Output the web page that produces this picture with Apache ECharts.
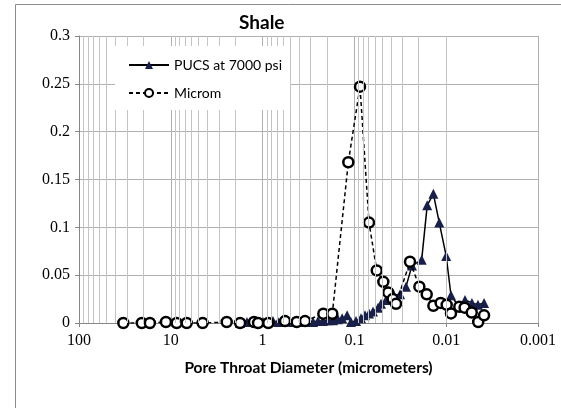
<!DOCTYPE html>
<html>
<head>
<meta charset="utf-8">
<script src="https://cdn.jsdelivr.net/npm/echarts@6/dist/echarts.min.js"></script>
<style>
  html, body { margin: 0; padding: 0; background: #fff; }
  #chart { width: 561px; height: 408px; }
</style>
</head>
<body>
<div id="chart"></div>
<script>
// Pore throat diameter (micrometers) and incremental fraction, PUCS at 7000 psi
const pucsDiameter = [1.76, 1.48, 1.27, 1.12, 0.99, 0.873, 0.771, 0.679, 0.600, 0.528,
  0.467, 0.411, 0.363, 0.320, 0.282, 0.249, 0.220, 0.194, 0.171, 0.151,
  0.136, 0.120, 0.109, 0.0961, 0.0848, 0.0767, 0.0693, 0.0627, 0.0553, 0.0513,
  0.0453, 0.0409, 0.0371, 0.0318, 0.0274, 0.0236, 0.0185, 0.0161, 0.0138, 0.0119,
  0.0100, 0.00887, 0.00726, 0.00624, 0.00524, 0.00451, 0.00387];
const pucsFraction = [0, 0.001, 0.002, 0.001, 0.001, 0.001, 0.002, 0.001, 0.001, 0.002,
  0.001, 0.001, 0.002, 0.001, 0.001, 0.002, 0.002, 0.003, 0.003, 0.004,
  0.005, 0.008, 0.001, 0.002, 0.005, 0.008, 0.010, 0.012, 0.016, 0.020,
  0.024, 0.031, 0.029, 0.030, 0.038, 0.060, 0.066, 0.123, 0.135, 0.105,
  0.070, 0.029, 0.017, 0.024, 0.021, 0.019, 0.021];

// Microm distribution
const micromDiameter = [32.9, 20.7, 16.9, 11.3, 8.63, 6.71, 4.50, 2.46, 1.76, 1.24,
  1.12, 0.867, 0.570, 0.425, 0.345, 0.218, 0.174, 0.1165, 0.0869, 0.0693,
  0.0571, 0.0484, 0.0428, 0.0383, 0.0352, 0.0248, 0.0196, 0.0163, 0.0138, 0.0115,
  0.00988, 0.00887, 0.00720, 0.00631, 0.00527, 0.00448, 0.00387];
const micromFraction = [0, 0, 0, 0.001, 0, 0, 0, 0.001, 0, 0.001,
  0, 0, 0.002, 0.001, 0.002, 0.0097, 0.0097, 0.168, 0.247, 0.105,
  0.055, 0.043, 0.032, 0.025, 0.020, 0.064, 0.038, 0.030, 0.018, 0.021,
  0.019, 0.010, 0.017, 0.016, 0.011, 0.001, 0.008];

const xTickLabels = ['100', '10', '1', '0.1', '0.01', '0.001'];
const yTickLabels = ['0', '0.05', '0.1', '0.15', '0.2', '0.25', '0.3'];

// minor log gridlines at 2..9 x 10^k
const minorLines = [];
for (let k = -3; k <= 1; k++) {
  for (let m = 2; m <= 9; m++) minorLines.push({ xAxis: m * Math.pow(10, k) });
}

const pair = (xs, ys) => xs.map((x, i) => [x, ys[i]]);

const chart = echarts.init(document.getElementById('chart'), null, { renderer: 'canvas' });
chart.setOption({
  animation: false,
  backgroundColor: '#fff',
  graphic: [{
    type: 'rect', silent: true, z: -10,
    shape: { x: 15.5, y: 4.5, width: 600, height: 500 },
    style: { fill: 'none', stroke: '#8c8c8c', lineWidth: 1 }
  }],
  title: {
    text: 'Shale',
    left: 234, top: 8,
    textStyle: { fontFamily: 'Lato', fontWeight: 'bold', fontSize: 19, color: '#000' }
  },
  legend: {
    orient: 'vertical',
    left: 115, top: 46,
    z: 100,
    padding: [10, 8, 8, 13],
    backgroundColor: '#fff',
    itemWidth: 40, itemHeight: 10, itemGap: 10,
    data: ['PUCS at 7000 psi', 'Microm'],
    textStyle: { fontFamily: 'Lato', fontSize: 14, color: '#000', lineHeight: 18 }
  },
  grid: { left: 79, right: 23, top: 36, bottom: 85, containLabel: false },
  xAxis: {
    type: 'log', logBase: 10, min: 0.001, max: 100, inverse: true, interval: 1,
    name: 'Pore Throat Diameter (micrometers)',
    nameLocation: 'middle', nameGap: 37,
    nameTextStyle: { fontFamily: 'Lato', fontWeight: 'bold', fontSize: 15.5, color: '#000' },
    axisLine: { onZero: false, lineStyle: { color: '#868686', width: 1 } },
    axisTick: { show: true, length: 4, inside: false, lineStyle: { color: '#868686' } },
    axisLabel: {
      fontFamily: 'Liberation Serif', fontSize: 16, color: '#000', margin: 10,
      formatter: v => {
        const hit = xTickLabels.find(t => Math.abs(Math.log10(Number(t)) - Math.log10(v)) < 1e-6);
        return hit || '';
      }
    },
    splitLine: { show: true, lineStyle: { color: '#b0b0b0', width: 1 } }
  },
  yAxis: {
    type: 'value', min: 0, max: 0.3, interval: 0.05,
    axisLine: { show: true, lineStyle: { color: '#868686', width: 1 } },
    axisTick: { show: true, length: 4, lineStyle: { color: '#868686' } },
    axisLabel: {
      fontFamily: 'Liberation Serif', fontSize: 16, color: '#000', margin: 9,
      formatter: (v, i) => yTickLabels[i] !== undefined ? yTickLabels[i] : String(v)
    },
    splitLine: { show: true, lineStyle: { color: '#b0b0b0', width: 1 } }
  },
  series: [
    {
      name: 'minor-grid', type: 'line', data: [], z: 1, silent: true,
      markLine: {
        silent: true, symbol: 'none', animation: false,
        label: { show: false },
        lineStyle: { color: '#c4c4c4', width: 1, type: 'solid' },
        emphasis: { disabled: true },
        data: minorLines
      }
    },
    {
      name: 'PUCS at 7000 psi', type: 'line', z: 3,
      data: pair(pucsDiameter, pucsFraction),
      symbol: 'triangle', symbolSize: 10,
      itemStyle: { color: '#18204a', borderWidth: 0 },
      lineStyle: { color: '#000', width: 1.5, type: 'solid' }
    },
    {
      name: 'Microm', type: 'line', z: 4,
      data: pair(micromDiameter, micromFraction),
      symbol: 'circle', symbolSize: 10,
      itemStyle: { color: '#fff', borderColor: '#000', borderWidth: 2.5 },
      lineStyle: { color: '#000', width: 1.5, type: [4, 3] }
    }
  ]
});
</script>
</body>
</html>
